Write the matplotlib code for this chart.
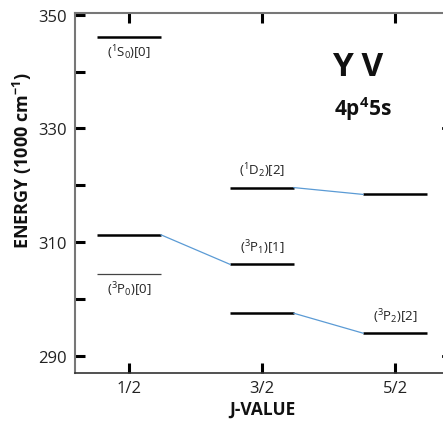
import matplotlib.pyplot as plt

# Data
j_labels = ["1/2", "3/2", "5/2"]
j_pos = [0.5, 1.5, 2.5]
# levels: (j index, energy in 1000 cm^-1)
level_j = [0, 0, 0, 1, 1, 1, 2, 2]
level_e = [346.1, 311.3, 304.4, 319.6, 306.1, 297.5, 318.4, 294.0]
level_thin = [False, False, True, False, False, False, False, False]
# connections: (from level idx, to level idx)
connections = [(1, 4), (3, 6), (5, 7)]
# labels
label_level = [0, 2, 3, 4, 7]
label_text = [r"$(^1\mathrm{S}_0)[0]$", r"$(^3\mathrm{P}_0)[0]$", r"$(^1\mathrm{D}_2)[2]$",
              r"$(^3\mathrm{P}_1)[1]$", r"$(^3\mathrm{P}_2)[2]$"]
label_side = ["below", "below", "above", "above", "above"]
y_major = [290, 310, 330, 350]
y_minor = [300, 320, 340]

plt.rcParams['font.family'] = ['Open Sans', 'DejaVu Sans']
plt.rcParams['mathtext.fontset'] = 'custom'
plt.rcParams['mathtext.rm'] = 'Open Sans'
plt.rcParams['mathtext.bf'] = 'Open Sans:bold'

fig = plt.figure(figsize=(4.43, 4.27), dpi=100)
ax = fig.add_axes([75/443, 1-374/427, 374/443, 360/427])
ax.set_xlim(0.094, 2.906)
ax.set_ylim(287.0, 350.3)

hw = 0.24
for j, e, thin in zip(level_j, level_e, level_thin):
    x = j_pos[j]
    if thin:
        ax.plot([x-hw, x+hw], [e, e], color='#444444', lw=0.9, solid_capstyle='butt')
    else:
        ax.plot([x-hw, x+hw], [e, e], color='black', lw=1.8, solid_capstyle='butt')

for a, b in connections:
    xa = j_pos[level_j[a]] + hw
    xb = j_pos[level_j[b]] - hw
    ax.plot([xa, xb], [level_e[a], level_e[b]], color='#5b9bd5', lw=0.9)

for li, t, side in zip(label_level, label_text, label_side):
    x = j_pos[level_j[li]]
    e = level_e[li]
    if side == 'below':
        ax.text(x, e - 0.9, t, ha='center', va='top', fontsize=9.5, color='#222222')
    else:
        ax.text(x, e + 1.5, t, ha='center', va='bottom', fontsize=9.5, color='#222222')

ax.text(0.757, 0.85, "Y V", transform=ax.transAxes, ha='center', va='center',
        fontsize=24, fontweight='bold', color='#111111')
ax.text(0.77, 0.737, r"4p$^{\mathbf{4}}$5s", transform=ax.transAxes, ha='center', va='center',
        fontsize=15, fontweight='bold', color='#111111')

ax.set_xticks(j_pos)
ax.set_xticklabels(j_labels, fontsize=12, color='#222222')
ax.set_yticks(y_major)
ax.set_yticklabels([str(v) for v in y_major], fontsize=12, color='#222222')
ax.set_yticks(y_minor, minor=True)
ax.tick_params(axis='both', which='both', direction='in', width=2.2, length=7, color='black')
ax.tick_params(axis='x', top=True, bottom=True, pad=5)
ax.tick_params(axis='y', left=True, right=False, pad=6)

for v in [290, 330]:
    ax.plot([2.906 - 0.045, 2.906 - 0.03], [v, v], color='black', lw=2, clip_on=False)

for s in ['left', 'top']:
    ax.spines[s].set_color('#777777')
    ax.spines[s].set_linewidth(1.5)
ax.spines['bottom'].set_color('#333333')
ax.spines['bottom'].set_linewidth(1.2)
ax.spines['right'].set_visible(False)

ax.set_xlabel("J-VALUE", fontsize=12.5, fontweight='bold', labelpad=3, color='#111111')
ax.set_ylabel(r"ENERGY (1000 cm$^{\mathbf{-1}}$)", fontsize=13, fontweight='bold', color='#111111')
ax.yaxis.set_label_coords(-0.11, (374-161)/360)

fig.savefig("out.png", dpi=100)
